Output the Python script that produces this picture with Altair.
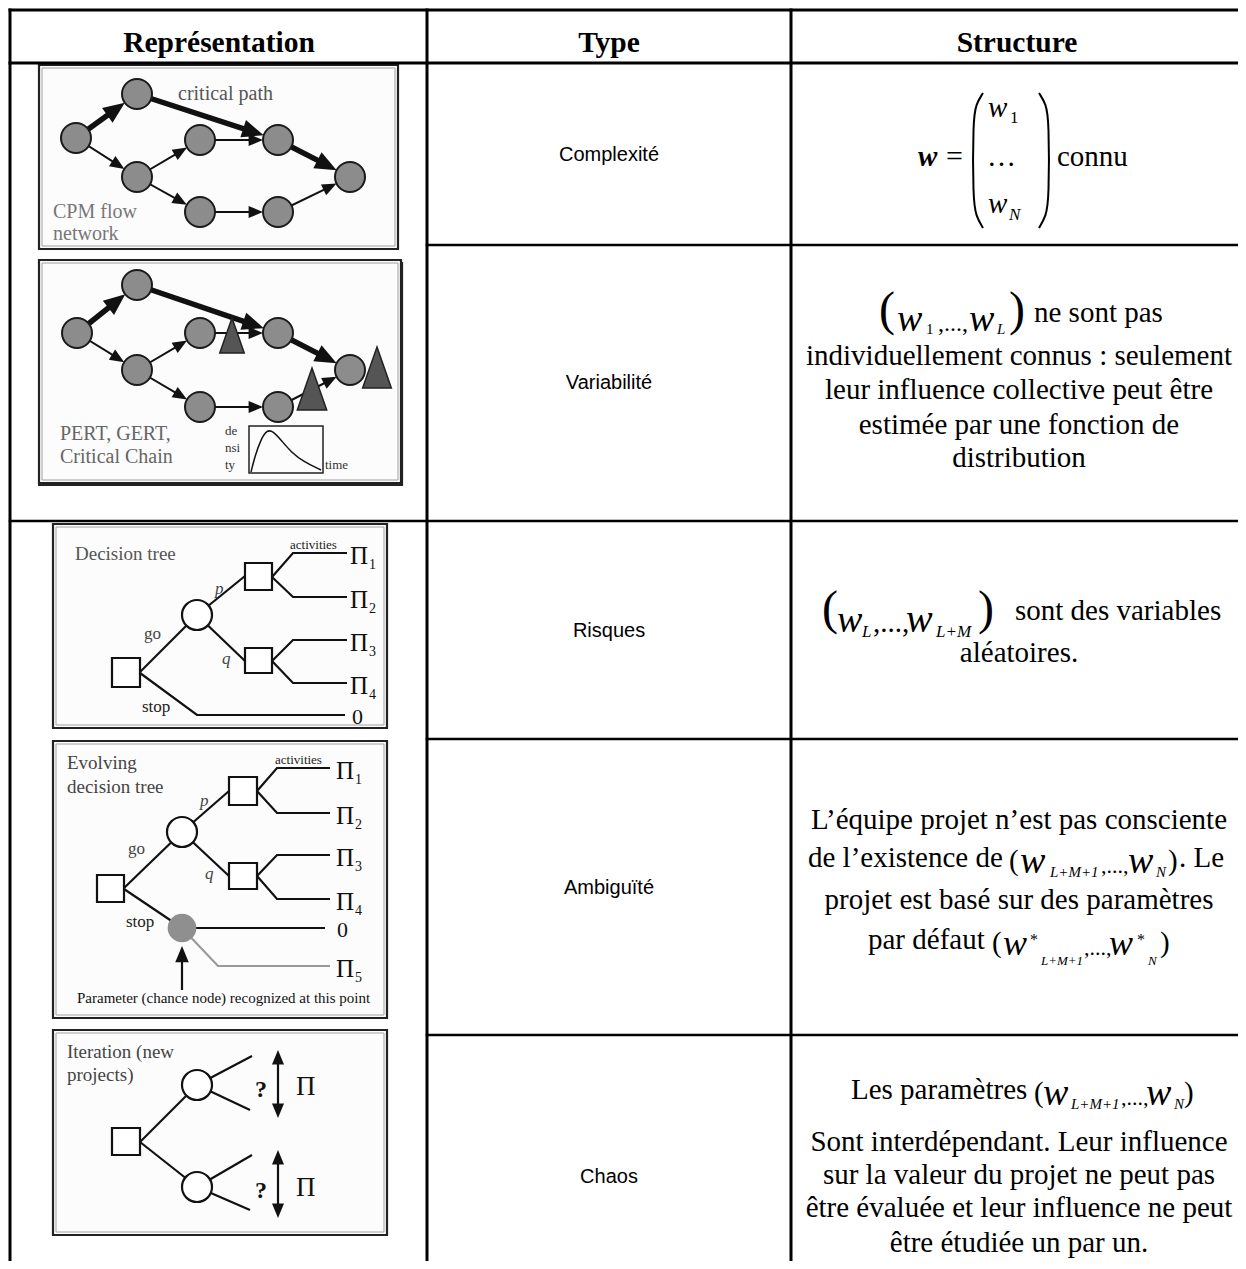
import math
import altair as alt
import pandas as pd

# ---------------- table grid ----------------
grid_x1 = [10, 10, 10, 427, 791, 427, 10, 427, 427]
grid_y1 = [10, 63, 10, 10, 10, 245, 521, 739, 1035]
grid_x2 = [1238, 1238, 10, 427, 791, 1238, 1238, 1238, 1238]
grid_y2 = [10, 63, 1261, 1261, 1261, 245, 521, 739, 1035]
grid_w = [3, 3, 3, 3, 3, 2.5, 2.5, 2.5, 2.5]

# ---------------- headers / type column ----------------
header_text = ["Représentation", "Type", "Structure"]
header_x = [219, 609, 1017]
header_y = [43, 43, 43]

type_text = ["Complexité", "Variabilité", "Risques", "Ambiguïté", "Chaos"]
type_y = [155, 383, 631, 888, 1177]
type_x = 609

# ---------------- structure column: centered plain lines ----------------
struct_lines = [
    "individuellement connus : seulement",
    "leur influence collective peut être",
    "estimée par une fonction de",
    "distribution",
    "aléatoires.",
    "L’équipe projet n’est pas consciente",
    "projet est basé sur des paramètres",
    "Sont interdépendant. Leur influence",
    "sur la valeur du projet ne peut pas",
    "être évaluée et leur influence ne peut",
    "être étudiée un par un.",
]
struct_y = [356, 390, 425, 458, 653, 820, 900, 1142, 1175, 1208, 1243]
struct_x = 1019

# ---------------- structure column: math fragments (text, x, baseline, size, style) ----------------
frag_text = [
    "w", "=", "w", "1", "…", "w", "N", "connu",
    "(", "w", "1", ",...,", "w", "L", ")", "ne sont pas",
    "(", "w", "L", ",...,", "w", "L+M", ")", "sont des variables",
    "de l’existence de", "(", "w", "L+M+1", ",...,", "w", "N", ")", ". Le",
    "par défaut", "(", "w", "*", "L+M+1", ",...,", "w", "*", "N", ")",
    "Les paramètres", "(", "w", "L+M+1", ",...,", "w", "N", ")",
]
frag_x = [
    918, 946, 988, 1010, 987, 988, 1009, 1057,
    879, 897, 926, 938, 969, 997, 1009, 1034,
    822, 837, 862, 873, 906, 936, 978, 1015,
    808, 1009, 1020, 1050, 1101, 1128, 1156, 1168, 1179,
    868, 992, 1003, 1030, 1041, 1084, 1109, 1137, 1148, 1160,
    851, 1034, 1043, 1071, 1121, 1146, 1174, 1184,
]
frag_b = [
    166, 166, 117, 123, 166, 213, 220, 166,
    325, 331, 334, 331, 331, 334, 325, 322,
    624, 632, 637, 632, 632, 637, 624, 620,
    867, 870, 873, 877, 873, 873, 877, 870, 867,
    949, 952, 955, 945, 965, 955, 955, 945, 965, 952,
    1099, 1102, 1105, 1109, 1105, 1105, 1109, 1102,
]
frag_s = [
    29, 30, 29, 17, 29, 29, 17, 29,
    48, 38, 15, 24, 38, 15, 48, 29,
    48, 38, 17, 29, 40, 17, 48, 29,
    29, 29, 38, 15, 22, 38, 15, 29, 29,
    29, 29, 36, 16, 13, 22, 36, 16, 13, 29,
    29, 29, 38, 15, 22, 38, 15, 29,
]
frag_style = [
    "bi", "r", "i", "r", "r", "i", "i", "r",
    "r", "i", "r", "r", "i", "i", "r", "r",
    "r", "i", "i", "r", "i", "i", "r", "r",
    "r", "r", "i", "i", "r", "i", "i", "r", "r",
    "r", "r", "i", "r", "i", "r", "i", "r", "i", "r",
    "r", "r", "i", "i", "r", "i", "i", "r",
]

# large matrix parentheses (Complexité)
paren_id = ["L"] * 6 + ["R"] * 6
paren_x = [983, 976, 973, 973, 976, 983, 1039, 1046, 1049, 1049, 1046, 1039]
paren_y = [93, 104, 120, 200, 216, 228, 93, 104, 120, 200, 216, 228]

# ---------------- diagram panels (frames) ----------------
frame_x1 = [39, 39, 53, 53, 53]
frame_y1 = [65, 260, 524, 741, 1030]
frame_x2 = [398, 401, 387, 387, 387]
frame_y2 = [249, 483, 728, 1018, 1235]

# ---------------- CPM / PERT networks ----------------
node_names = ["A", "B", "C", "D", "E", "F", "G", "H"]
cpm_x = [76, 137, 137, 200, 200, 278, 278, 350]
cpm_y = [138, 94, 177, 140, 212, 140, 212, 177]
pert_x = [77, 137, 137, 200, 200, 278, 278, 350]
pert_y = [333, 285, 370, 333, 407, 333, 407, 370]
edge_from = ["A", "B", "F", "A", "C", "D", "C", "E", "G"]
edge_to = ["B", "F", "H", "C", "D", "F", "E", "G", "H"]
edge_thick = [1, 1, 1, 0, 0, 0, 0, 0, 0]
node_r = 15

# PERT buffer triangles
tri_x = [232, 377, 312]
tri_y = [335.5, 367.5, 389]
tri_h = [35, 41, 42]

# density inset
dens_box = [249, 426, 323, 473]
dens_x = [251, 255, 261, 267, 273, 281, 291, 304, 321]
dens_y = [472, 456, 439, 430, 431, 440, 452, 462, 470]

# ---------------- decision trees ----------------
sq_x1 = [112, 245, 245, 97, 229, 229, 112]
sq_y1 = [658, 563, 648, 875, 777, 863, 1128]
sq_x2 = [140, 272, 272, 124, 257, 257, 140]
sq_y2 = [687, 590, 673, 902, 805, 889, 1155]

chance_x = [197, 182, 197, 197]
chance_y = [615, 832, 1085, 1187]
gray_node_x = [182]
gray_node_y = [928]

# polylines: (id, color, points)
tree_paths = [
    ("t1", "#111", [(140, 672), (197, 615)]),
    ("t2", "#111", [(197, 615), (245, 576)]),
    ("t3", "#111", [(197, 615), (245, 661)]),
    ("t4", "#111", [(272, 577), (293, 553), (347, 553)]),
    ("t5", "#111", [(272, 577), (293, 597), (347, 597)]),
    ("t6", "#111", [(272, 661), (293, 640), (347, 640)]),
    ("t7", "#111", [(272, 661), (293, 683), (347, 683)]),
    ("t8", "#111", [(140, 673), (197, 715), (345, 715)]),
    ("e1", "#111", [(124, 888), (182, 832)]),
    ("e2", "#111", [(182, 832), (229, 791)]),
    ("e3", "#111", [(182, 832), (229, 876)]),
    ("e4", "#111", [(257, 791), (277, 768), (330, 768)]),
    ("e5", "#111", [(257, 791), (277, 813), (330, 813)]),
    ("e6", "#111", [(257, 876), (277, 855), (330, 855)]),
    ("e7", "#111", [(257, 876), (277, 899), (330, 899)]),
    ("e8", "#111", [(124, 889), (182, 928)]),
    ("e9", "#111", [(182, 928), (325, 928)]),
    ("e10", "#9a9a9a", [(182, 928), (218, 966), (330, 966)]),
    ("e11", "#111", [(182, 990), (182, 954)]),
    ("i1", "#111", [(140, 1142), (197, 1085)]),
    ("i2", "#111", [(140, 1142), (197, 1187)]),
    ("i3", "#111", [(197, 1085), (252, 1056)]),
    ("i4", "#111", [(197, 1085), (250, 1110)]),
    ("i5", "#111", [(197, 1187), (252, 1155)]),
    ("i6", "#111", [(197, 1187), (250, 1210)]),
    ("i7", "#111", [(278, 1058), (278, 1110)]),
    ("i8", "#111", [(278, 1158), (278, 1210)]),
    ("p2a", "#222", [(38, 485), (403, 485)]),
    ("p2b", "#222", [(402, 262), (402, 485)]),
]

# free arrowheads (tip x, tip y, direction angle, half-size)
free_tip_x = [182, 278, 278, 278, 278]
free_tip_y = [946, 1050, 1118, 1150, 1218]
free_ang = [0, 0, 180, 0, 180]
free_sc = [9, 8, 8, 8, 8]

# ---------------- diagram texts (text, x, baseline, size, color, style) ----------------
diag_text = [
    ("critical path", 178, 100, 20, "#555", "r"),
    ("CPM flow", 53, 218, 20, "#777", "r"),
    ("network", 53, 240, 20, "#777", "r"),
    ("PERT, GERT,", 60, 440, 20, "#666", "r"),
    ("Critical Chain", 60, 463, 20, "#666", "r"),
    ("de", 225, 435, 13, "#333", "r"),
    ("nsi", 225, 452, 13, "#333", "r"),
    ("ty", 225, 469, 13, "#333", "r"),
    ("time", 325, 469, 13, "#333", "r"),
    ("Decision tree", 75, 560, 19, "#555", "r"),
    ("activities", 290, 549, 13, "#222", "r"),
    ("p", 215, 594, 17, "#444", "i"),
    ("go", 144, 639, 17, "#444", "r"),
    ("q", 222, 664, 17, "#444", "i"),
    ("stop", 142, 712, 17, "#222", "r"),
    ("Evolving", 67, 769, 19, "#444", "r"),
    ("decision tree", 67, 793, 19, "#444", "r"),
    ("activities", 275, 764, 13, "#222", "r"),
    ("go", 128, 854, 17, "#444", "r"),
    ("p", 200, 806, 17, "#444", "i"),
    ("q", 205, 879, 17, "#444", "i"),
    ("stop", 126, 927, 17, "#222", "r"),
    ("Parameter (chance node) recognized at this point", 77, 1003, 15, "#111", "r"),
    ("Iteration (new", 67, 1058, 19, "#444", "r"),
    ("projects)", 67, 1081, 19, "#444", "r"),
    ("Π", 350, 564, 25, "#111", "r"), ("1", 369, 569, 14, "#111", "r"),
    ("Π", 350, 608, 25, "#111", "r"), ("2", 369, 613, 14, "#111", "r"),
    ("Π", 350, 651, 25, "#111", "r"), ("3", 369, 656, 14, "#111", "r"),
    ("Π", 350, 694, 25, "#111", "r"), ("4", 369, 699, 14, "#111", "r"),
    ("0", 352, 724, 22, "#111", "r"),
    ("Π", 336, 779, 25, "#111", "r"), ("1", 355, 784, 14, "#111", "r"),
    ("Π", 336, 824, 25, "#111", "r"), ("2", 355, 829, 14, "#111", "r"),
    ("Π", 336, 866, 25, "#111", "r"), ("3", 355, 871, 14, "#111", "r"),
    ("Π", 336, 910, 25, "#111", "r"), ("4", 355, 915, 14, "#111", "r"),
    ("0", 337, 937, 22, "#111", "r"),
    ("Π", 336, 977, 25, "#111", "r"), ("5", 355, 982, 14, "#111", "r"),
    ("?", 255, 1097, 24, "#111", "b"),
    ("Π", 296, 1095, 27, "#111", "r"),
    ("?", 255, 1198, 24, "#111", "b"),
    ("Π", 296, 1196, 27, "#111", "r"),
]

# =====================================================================
XS = alt.Scale(domain=[8, 1238], nice=False, zero=False)
YS = alt.Scale(domain=[8, 1261], nice=False, zero=False, reverse=True)


def X(f):
    return alt.X(f, type="quantitative", scale=XS, axis=None)


def Y(f):
    return alt.Y(f, type="quantitative", scale=YS, axis=None)


def NS(ch, f):
    return ch(f, scale=None, legend=None)


layers = []

# panel frames
fr = pd.DataFrame({"x1": frame_x1, "y1": frame_y1, "x2": frame_x2, "y2": frame_y2})
layers.append(alt.Chart(fr).mark_rect(fill="#fcfcfc", stroke="#222", strokeWidth=2.2).encode(
    x=X("x1"), x2="x2", y=Y("y1"), y2="y2"))
fr_in = fr.copy()
fr_in["x1"] += 3; fr_in["y1"] += 3; fr_in["x2"] -= 3; fr_in["y2"] -= 3
layers.append(alt.Chart(fr_in).mark_rect(fill=None, stroke="#a0a0a0", strokeWidth=1).encode(
    x=X("x1"), x2="x2", y=Y("y1"), y2="y2"))

# table grid
grid = pd.DataFrame({"x1": grid_x1, "y1": grid_y1, "x2": grid_x2, "y2": grid_y2, "w": grid_w})
layers.append(alt.Chart(grid).mark_rule(color="#000", strokeCap="square").encode(
    x=X("x1"), y=Y("y1"), x2="x2", y2="y2", size=NS(alt.Size, "w")))

# network edges + arrowheads
seg_rows, head_rows = [], []
for px, py in ((cpm_x, cpm_y), (pert_x, pert_y)):
    pos = {n: (px[i], py[i]) for i, n in enumerate(node_names)}
    for a, b, t in zip(edge_from, edge_to, edge_thick):
        (sx, sy), (tx, ty) = pos[a], pos[b]
        L = math.hypot(tx - sx, ty - sy)
        ux, uy = (tx - sx) / L, (ty - sy) / L
        sc = 12 if t else 8
        tipx, tipy = tx - ux * node_r, ty - uy * node_r
        seg_rows.append({"x1": sx, "y1": sy, "x2": tipx - ux * sc, "y2": tipy - uy * sc, "w": 5.5 if t else 2})
        head_rows.append({"x": tipx - ux * sc, "y": tipy - uy * sc,
                          "ang": math.degrees(math.atan2(ux, -uy)) % 360, "S": (2 * sc) ** 2})
for tx, ty, ang, sc in zip(free_tip_x, free_tip_y, free_ang, free_sc):
    ux, uy = math.sin(math.radians(ang)), -math.cos(math.radians(ang))
    head_rows.append({"x": tx - ux * sc, "y": ty - uy * sc, "ang": ang, "S": (2 * sc) ** 2})

layers.append(alt.Chart(pd.DataFrame(seg_rows)).mark_rule(color="#111").encode(
    x=X("x1"), y=Y("y1"), x2="x2", y2="y2", size=NS(alt.Size, "w")))

# tree polylines
tp = []
for pid, col, pts in tree_paths:
    for i, (x, y) in enumerate(pts):
        tp.append({"id": pid, "c": col, "i": i, "x": x, "y": y})
tp = pd.DataFrame(tp)
layers.append(alt.Chart(tp).mark_line(strokeWidth=2.2).encode(
    x=X("x"), y=Y("y"), detail="id", order="i", color=NS(alt.Color, "c")))

# density inset
layers.append(alt.Chart(pd.DataFrame({"x1": [dens_box[0]], "y1": [dens_box[1]], "x2": [dens_box[2]], "y2": [dens_box[3]]}))
              .mark_rect(fill=None, stroke="#222", strokeWidth=1.5).encode(x=X("x1"), x2="x2", y=Y("y1"), y2="y2"))
layers.append(alt.Chart(pd.DataFrame({"x": dens_x, "y": dens_y, "i": list(range(len(dens_x)))}))
              .mark_line(color="#111", strokeWidth=1.5, interpolate="basis").encode(x=X("x"), y=Y("y"), order="i"))

# arrowheads
layers.append(alt.Chart(pd.DataFrame(head_rows)).mark_point(
    shape="M0,-1L0.75,0.8L-0.75,0.8Z", filled=True, color="#111", opacity=1, strokeWidth=0).encode(
    x=X("x"), y=Y("y"), angle=NS(alt.Angle, "ang"), size=NS(alt.Size, "S")))

# network nodes
nodes = pd.DataFrame({"x": cpm_x + pert_x, "y": cpm_y + pert_y})
layers.append(alt.Chart(nodes).mark_point(shape="circle", filled=True, fill="#8c8c8c", stroke="#1a1a1a",
                                          strokeWidth=2, opacity=1, size=(2 * node_r) ** 2).encode(x=X("x"), y=Y("y")))

# PERT triangles
tri = pd.DataFrame({"x": tri_x, "y": tri_y, "S": [h * h for h in tri_h]})
layers.append(alt.Chart(tri).mark_point(shape="M0,-1L0.7,1L-0.7,1Z", filled=True, fill="#555", stroke="#222",
                                        strokeWidth=1.5, opacity=1).encode(x=X("x"), y=Y("y"), size=NS(alt.Size, "S")))

# decision squares
sq = pd.DataFrame({"x1": sq_x1, "y1": sq_y1, "x2": sq_x2, "y2": sq_y2})
layers.append(alt.Chart(sq).mark_rect(fill="#ffffff", stroke="#111", strokeWidth=2.2).encode(
    x=X("x1"), x2="x2", y=Y("y1"), y2="y2"))

# chance nodes
layers.append(alt.Chart(pd.DataFrame({"x": chance_x, "y": chance_y})).mark_point(
    shape="circle", filled=True, fill="#ffffff", stroke="#111", strokeWidth=2.2, opacity=1, size=900).encode(
    x=X("x"), y=Y("y")))
layers.append(alt.Chart(pd.DataFrame({"x": gray_node_x, "y": gray_node_y})).mark_point(
    shape="circle", filled=True, fill="#8f8f8f", strokeWidth=0, opacity=1, size=820).encode(x=X("x"), y=Y("y")))

# parentheses
layers.append(alt.Chart(pd.DataFrame({"id": paren_id, "x": paren_x, "y": paren_y, "i": list(range(12))}))
              .mark_line(color="#000", strokeWidth=2, interpolate="basis").encode(
    x=X("x"), y=Y("y"), detail="id", order="i"))


def text_layer(df, font="Liberation Serif", weight="normal", style="normal", align="left", baseline="alphabetic"):
    return alt.Chart(df).mark_text(font=font, fontWeight=weight, fontStyle=style, align=align,
                                   baseline=baseline).encode(
        x=X("x"), y=Y("y"), text="t", size=NS(alt.Size, "s"), color=NS(alt.Color, "c"))


# headers
layers.append(text_layer(pd.DataFrame({"t": header_text, "x": header_x, "y": header_y, "s": 29.5, "c": "#000"}),
                         weight="bold", align="center", baseline="middle"))
# type column
layers.append(text_layer(pd.DataFrame({"t": type_text, "x": type_x, "y": type_y, "s": 20, "c": "#000"}),
                         font="Liberation Sans", align="center", baseline="middle"))
# structure plain lines
layers.append(text_layer(pd.DataFrame({"t": struct_lines, "x": struct_x, "y": struct_y, "s": 29, "c": "#000"}),
                         align="center", baseline="middle"))
# structure math fragments
fr_df = pd.DataFrame({"t": frag_text, "x": frag_x, "y": frag_b, "s": frag_s, "st": frag_style, "c": "#000"})
layers.append(text_layer(fr_df[fr_df.st == "r"]))
layers.append(text_layer(fr_df[fr_df.st == "i"], style="italic"))
layers.append(text_layer(fr_df[fr_df.st == "bi"], weight="bold", style="italic"))

# diagram texts
dt = pd.DataFrame(diag_text, columns=["t", "x", "y", "s", "c", "st"])
layers.append(text_layer(dt[dt.st == "r"]))
layers.append(text_layer(dt[dt.st == "i"], style="italic"))
layers.append(text_layer(dt[dt.st == "b"], weight="bold"))

chart = alt.layer(*layers).properties(
    width=1230, height=1253, padding=0, autosize=alt.AutoSizeParams(type="none"), background="white"
).configure_view(stroke=None)

chart.save("out.html", embed_options={"renderer": "svg", "actions": False})
